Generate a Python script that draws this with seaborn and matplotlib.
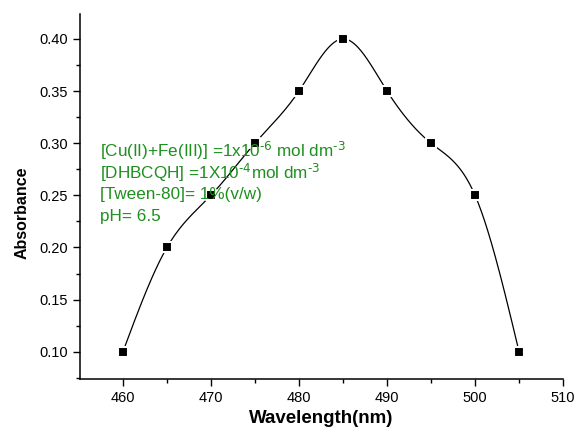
import numpy as np
import pandas as pd
import seaborn as sns
import matplotlib.pyplot as plt
from matplotlib.ticker import MultipleLocator

sns.set_style("ticks")
plt.rcParams['font.family'] = ['Liberation Sans', 'DejaVu Sans']
plt.rcParams['mathtext.default'] = 'regular'
plt.rcParams['axes.unicode_minus'] = False
plt.rcParams['text.color'] = 'black'
plt.rcParams['axes.labelcolor'] = 'black'
plt.rcParams['xtick.color'] = 'black'
plt.rcParams['ytick.color'] = 'black'
plt.rcParams['axes.edgecolor'] = 'black'

wavelength = [460, 465, 470, 475, 480, 485, 490, 495, 500, 505]
absorbance = [0.10, 0.20, 0.25, 0.30, 0.35, 0.40, 0.35, 0.30, 0.25, 0.10]
conditions = [
    r'[Cu(II)+Fe(III)] =1x10$^{\text{-6}}$ mol dm$^{\text{-3}}$',
    r'[DHBCQH] =1X10$^{\text{-4}}$mol dm$^{\text{-3}}$',
    r'[Tween-80]= 1%(v/w)',
    r'pH= 6.5',
]


def natural_spline(x, y, n=400):
    # natural cubic spline through the points
    x = np.asarray(x, float)
    y = np.asarray(y, float)
    k = len(x)
    h = np.diff(x)
    A = np.zeros((k, k))
    b = np.zeros(k)
    A[0, 0] = A[-1, -1] = 1
    for i in range(1, k - 1):
        A[i, i - 1] = h[i - 1]
        A[i, i] = 2 * (h[i - 1] + h[i])
        A[i, i + 1] = h[i]
        b[i] = 3 * ((y[i + 1] - y[i]) / h[i] - (y[i] - y[i - 1]) / h[i - 1])
    c = np.linalg.solve(A, b)
    xs = np.linspace(x[0], x[-1], n)
    idx = np.clip(np.searchsorted(x, xs) - 1, 0, k - 2)
    dx = xs - x[idx]
    bb = (y[idx + 1] - y[idx]) / h[idx] - h[idx] * (2 * c[idx] + c[idx + 1]) / 3
    dd = (c[idx + 1] - c[idx]) / (3 * h[idx])
    ys = y[idx] + bb * dx + c[idx] * dx ** 2 + dd * dx ** 3
    return xs, ys


df = pd.DataFrame({'Wavelength': wavelength, 'Absorbance': absorbance})
xs, ys = natural_spline(wavelength, absorbance)
curve = pd.DataFrame({'Wavelength': xs, 'Absorbance': ys})

fig = plt.figure(figsize=(5.74, 4.32), dpi=100)
ax = fig.add_axes([0.139, 0.123, 0.842, 0.845])

sns.lineplot(data=curve, x='Wavelength', y='Absorbance', color='black', lw=0.9, ax=ax)
sns.scatterplot(data=df, x='Wavelength', y='Absorbance', marker='s', s=50,
                color='black', edgecolor='white', linewidth=1.5, zorder=3, ax=ax)

ax.set_xlim(455.1, 510)
ax.set_ylim(0.074, 0.424)
ax.xaxis.set_major_locator(MultipleLocator(10))
ax.xaxis.set_minor_locator(MultipleLocator(5))
ax.yaxis.set_major_locator(MultipleLocator(0.05))
ax.yaxis.set_minor_locator(MultipleLocator(0.025))
ax.yaxis.set_major_formatter(plt.FormatStrFormatter('%.2f'))
ax.tick_params(which='major', length=5, width=1, labelsize=10.5)
ax.tick_params(which='minor', length=3, width=1)
sns.despine(ax=ax)
for s in ['left', 'bottom']:
    ax.spines[s].set_linewidth(1.1)

ax.set_xlabel('Wavelength(nm)', fontsize=13.5, fontweight='bold')
ax.set_ylabel('Absorbance', fontsize=11.5, fontweight='bold')
ax.yaxis.set_label_coords(-0.104, 0.455)

y0 = 0.2926
for i, t in enumerate(conditions):
    ax.text(457.4, y0 - i * 0.021, t, color='#1f8f1f', fontsize=12.3, va='center')

fig.savefig('out.png', dpi=100)
